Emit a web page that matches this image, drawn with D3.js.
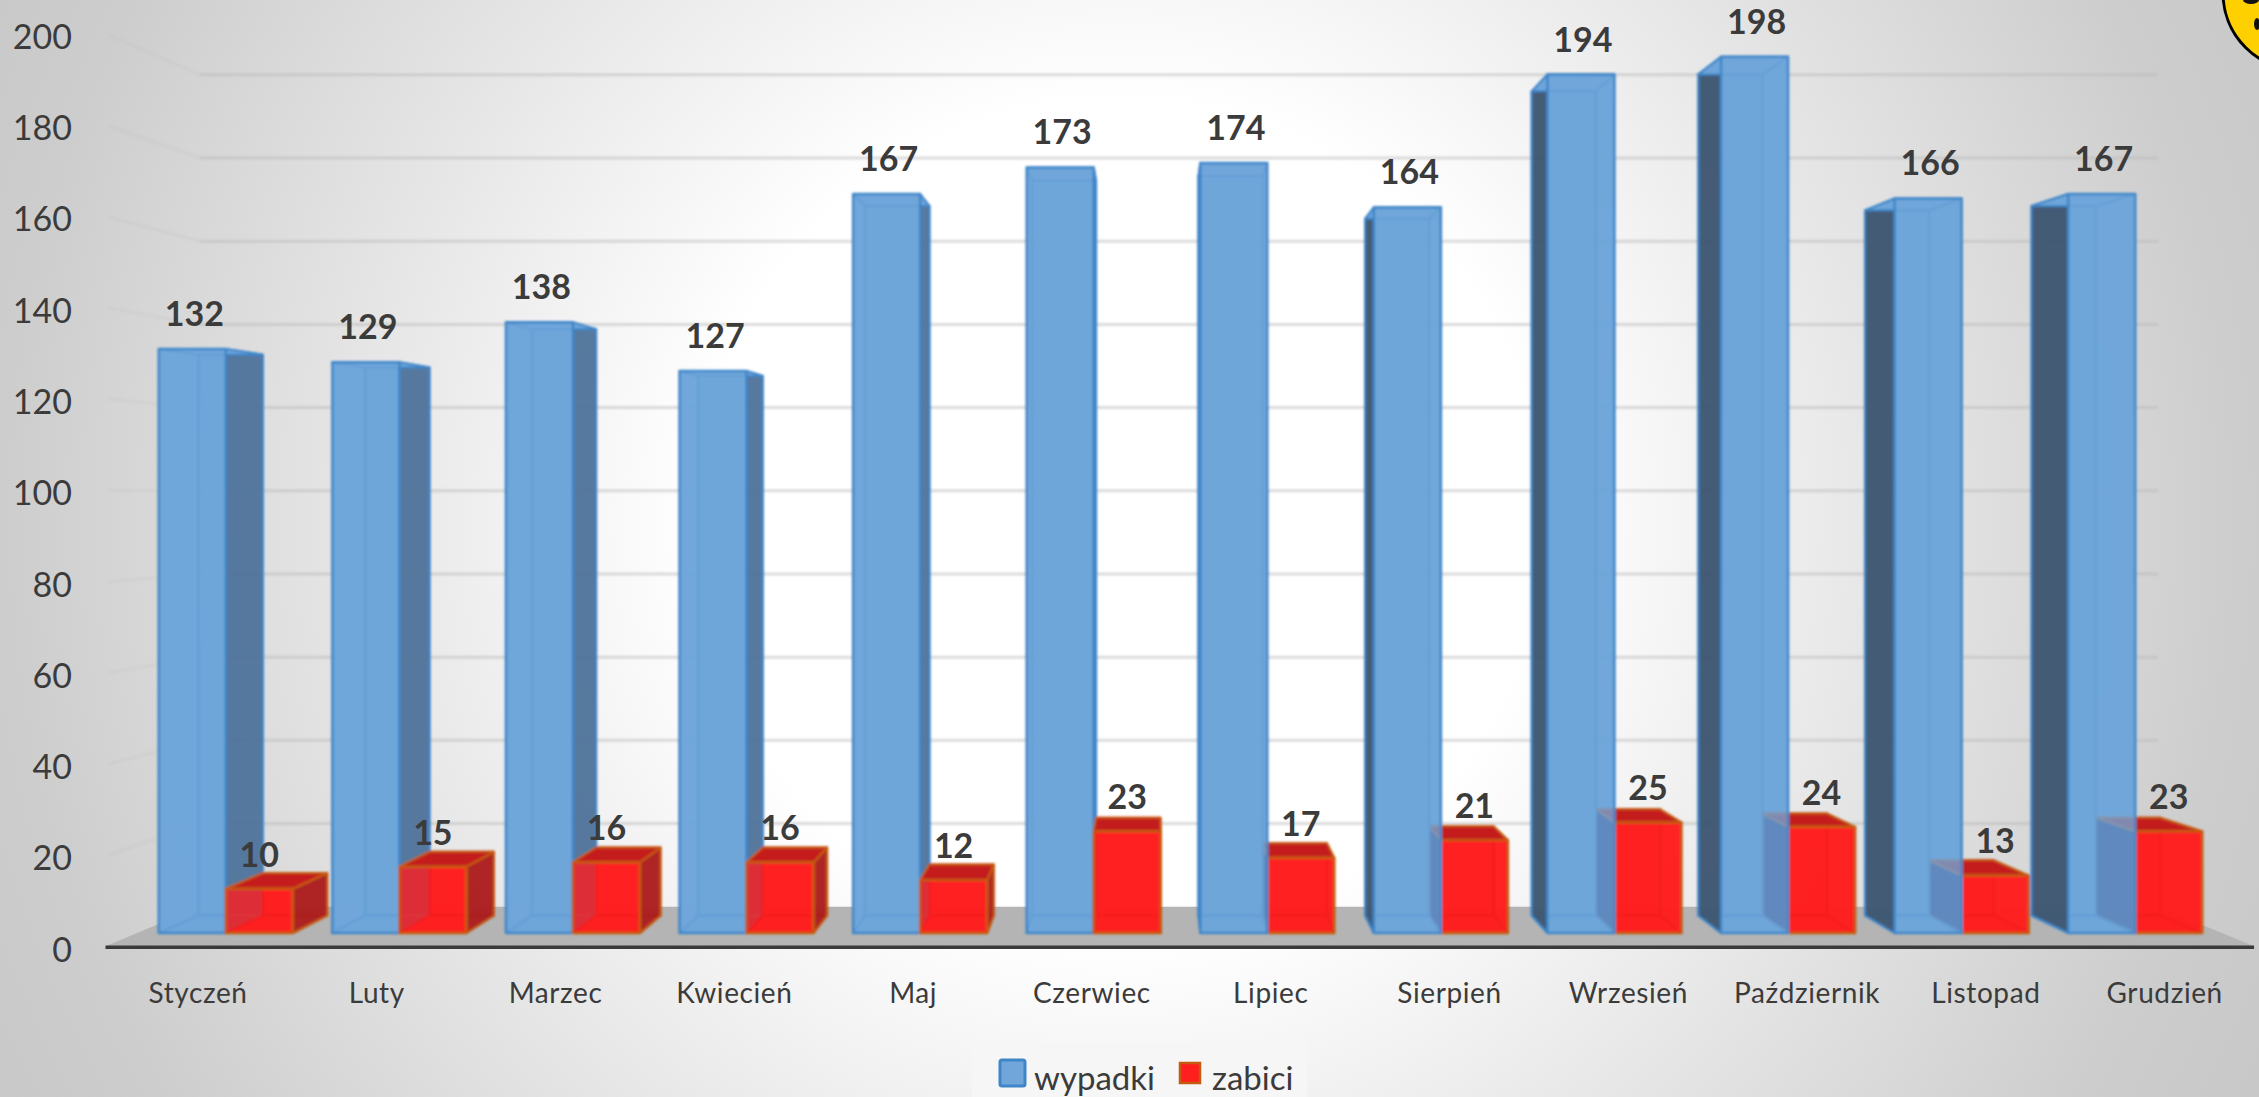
<!DOCTYPE html>
<html>
<head>
<meta charset="utf-8">
<script src="https://d3js.org/d3.v7.min.js"></script>
<style>
html, body { margin: 0; padding: 0; overflow: hidden; }
text { font-family: Lato, "Open Sans", sans-serif; fill: #3b3b3b; }
</style>
</head>
<body>
<div id="chart"></div>
<script>
var months = ["Styczeń", "Luty", "Marzec", "Kwiecień", "Maj", "Czerwiec", "Lipiec", "Sierpień", "Wrzesień", "Październik", "Listopad", "Grudzień"];
var wypadki = [132, 129, 138, 127, 167, 173, 174, 164, 194, 198, 166, 167];
var zabici = [10, 15, 16, 16, 12, 23, 17, 21, 25, 24, 13, 23];
var seriesNames = ["wypadki", "zabici"];
var yTicks = [0, 20, 40, 60, 80, 100, 120, 140, 160, 180, 200];

var width = 2259, height = 1097;

// the chart is a fake 3D one: everything goes to one vanishing point,
// k is how far from the viewer a plane is (1 = front of the bars)
var vx = 1153, vy = 495;
var kFloor = 1.03, kBarBack = 0.96, kWall = 0.94;

function P(x, y, k) {
    return [vx + k * (x - vx), vy + k * (y - vy)];
}

var x = d3.scaleBand().domain(months).range([139, 2222]).paddingInner(0.228).paddingOuter(0.114);
var xSeries = d3.scaleBand().domain(seriesNames).range([0, x.bandwidth()]);
var y = d3.scaleLinear().domain([0, 200]).range([933, 48]);

var xLeft = x.range()[0], xRight = x.range()[1];

var svg = d3.select("#chart").append("svg")
    .attr("width", width)
    .attr("height", height);

var defs = svg.append("defs");
var bg = defs.append("radialGradient")
    .attr("id", "bg")
    .attr("gradientUnits", "userSpaceOnUse")
    .attr("cx", 1120).attr("cy", 520).attr("r", 1270);
bg.append("stop").attr("offset", "0.33").attr("stop-color", "#ffffff");
bg.append("stop").attr("offset", "0.6").attr("stop-color", "#e6e6e6");
bg.append("stop").attr("offset", "0.88").attr("stop-color", "#cdcdcd");
bg.append("stop").attr("offset", "1").attr("stop-color", "#c8c8c8");

defs.append("filter").attr("id", "soft")
    .append("feGaussianBlur").attr("stdDeviation", 0.8);
defs.append("filter").attr("id", "soft2")
    .append("feGaussianBlur").attr("stdDeviation", 1.4);

svg.append("rect")
    .attr("width", width)
    .attr("height", height)
    .attr("fill", "url(#bg)");

// yellow sign cut by the corner
svg.append("circle")
    .attr("cx", 2300).attr("cy", -7).attr("r", 77)
    .attr("fill", "#ffd000")
    .attr("stroke", "#000")
    .attr("stroke-width", 3);
svg.append("ellipse")
    .attr("cx", 2251).attr("cy", 0).attr("rx", 8).attr("ry", 4).attr("fill", "#111");
svg.append("ellipse")
    .attr("cx", 2257).attr("cy", 24).attr("rx", 3).attr("ry", 6).attr("fill", "#111");

var line = d3.line();

// grid on the back wall, with the bit on the left wall
var grid = svg.append("g").attr("filter", "url(#soft)");
yTicks.slice(1).forEach(function (t) {
    grid.append("path")
        .attr("d", line([P(xLeft, y(t), kWall), P(xRight, y(t), kWall)]))
        .attr("fill", "none")
        .attr("stroke", "rgba(185,185,185,0.5)")
        .attr("stroke-width", 3);
    grid.append("path")
        .attr("d", line([P(xLeft, y(t), kFloor), P(xLeft, y(t), kWall)]))
        .attr("fill", "none")
        .attr("stroke", "rgba(185,185,185,0.18)")
        .attr("stroke-width", 3);
});

// floor
svg.append("path")
    .attr("d", line([P(xLeft - 3, y(0), kFloor), P(xRight, y(0), kFloor), P(xRight, y(0), kWall), P(xLeft, y(0), kWall)]) + "Z")
    .attr("fill", "#b4b4b4");

var styles = {
    wypadki: {
        stroke: "#3f86c9", edge: "#3a80c6",
        front: "#70a6da", frontOp: 0.78,
        back: "#6ba2d8", backOp: 0.95,
        top: "#6ea5da",
        sideR: "#50739a", sideL: "#3e556f", sideOp: 0.95
    },
    zabici: {
        stroke: "#c55a11", edge: "#c81a10",
        front: "#ff1f1f", frontOp: 0.8,
        back: "#ff1818", backOp: 0.85,
        top: "#c41e1e",
        sideR: "#ab1c1c", sideL: "#2a2060", sideOp: 0.95
    }
};

function face(g, pts, fill, op, stroke, sw) {
    g.append("path")
        .attr("d", line(pts) + "Z")
        .attr("fill", fill)
        .attr("fill-opacity", op)
        .attr("stroke", stroke)
        .attr("stroke-width", sw)
        .attr("stroke-linejoin", "round");
}

function frontPts(month, name, value) {
    var x0 = x(month) + xSeries(name);
    var x1 = x0 + xSeries.bandwidth();
    return [P(x0, y(value), 1), P(x1, y(value), 1), P(x1, y(0), 1), P(x0, y(0), 1)];
}

// underlay so the part of the front with no back face behind it is not paler
function drawUnderlay(g, month, name, value) {
    face(g, frontPts(month, name, value), styles[name].back, styles[name].backOp, "none", 0);
}

function drawBar(g, month, name, value) {
    var s = styles[name];
    var x0 = x(month) + xSeries(name);
    var x1 = x0 + xSeries.bandwidth();
    var yT = y(value), yB = y(0);
    var sideX = (x0 + x1) / 2 < vx ? x1 : x0;
    var sideFill = (x0 + x1) / 2 < vx ? s.sideR : s.sideL;

    face(g, [P(x0, yB, 1), P(x1, yB, 1), P(x1, yB, kBarBack), P(x0, yB, kBarBack)], s.back, 0.35, s.edge, 2);
    face(g, [P(x0, yT, kBarBack), P(x1, yT, kBarBack), P(x1, yB, kBarBack), P(x0, yB, kBarBack)], s.back, 0.35, s.edge, 2);
    face(g, [P(sideX, yT, 1), P(sideX, yT, kBarBack), P(sideX, yB, kBarBack), P(sideX, yB, 1)], sideFill, s.sideOp, s.stroke, 2);
    face(g, [P(x0, yT, 1), P(x1, yT, 1), P(x1, yT, kBarBack), P(x0, yT, kBarBack)], s.top, 1, s.stroke, 2);
    face(g, frontPts(month, name, value), s.front, s.frontOp, s.stroke, 2.5);
}

// bars, the one nearer the vanishing point goes first
var bars = svg.append("g").attr("filter", "url(#soft)");
months.forEach(function (m, i) {
    var g = bars.append("g");
    drawUnderlay(g, m, "wypadki", wypadki[i]);
    drawUnderlay(g, m, "zabici", zabici[i]);
    if (x(m) + x.bandwidth() / 2 < vx) {
        drawBar(g, m, "wypadki", wypadki[i]);
        drawBar(g, m, "zabici", zabici[i]);
    } else {
        drawBar(g, m, "zabici", zabici[i]);
        drawBar(g, m, "wypadki", wypadki[i]);
    }
});

// value labels
months.forEach(function (m, i) {
    svg.append("text")
        .attr("x", x(m) + xSeries("wypadki") + xSeries.bandwidth() / 2 + 2)
        .attr("y", y(wypadki[i]) - 23)
        .attr("text-anchor", "middle")
        .attr("font-size", 34)
        .attr("font-weight", 700)
        .text(wypadki[i]);
    svg.append("text")
        .attr("x", x(m) + xSeries("zabici") + xSeries.bandwidth() / 2)
        .attr("y", y(zabici[i]) - 22)
        .attr("text-anchor", "middle")
        .attr("font-size", 34)
        .attr("font-weight", 700)
        .text(zabici[i]);
});

// axes sit on the front edge of the floor
var yAxisScale = d3.scaleLinear().domain(y.domain())
    .range([P(0, y(0), kFloor)[1] + 4, P(0, y(200), kFloor)[1] + 3]);
var xAxisScale = d3.scaleBand().domain(months)
    .range([P(xLeft, 0, kFloor)[0], P(xRight, 0, kFloor)[0]]);

var yAxis = svg.append("g")
    .attr("transform", "translate(72,0)")
    .call(d3.axisLeft(yAxisScale).tickValues(yTicks).tickSize(0).tickPadding(0));
yAxis.select(".domain").remove();
yAxis.selectAll("text")
    .attr("font-size", 34)
    .attr("font-family", "Lato")
    .attr("fill", "#3b3b3b");

var xAxisY = P(0, y(0), kFloor)[1] + 1;
var axisEnds = [P(xLeft - 3, 0, kFloor)[0], xAxisScale.range()[1]];
svg.append("path")
    .attr("d", line([[axisEnds[0], xAxisY + 2], [axisEnds[1], xAxisY + 2]]))
    .attr("stroke", "#9a9a9a")
    .attr("stroke-width", 6)
    .attr("filter", "url(#soft2)");
svg.append("path")
    .attr("d", line([[axisEnds[0], xAxisY], [axisEnds[1], xAxisY]]))
    .attr("stroke", "#3a3a3a")
    .attr("stroke-width", 3.5);

var xAxis = svg.append("g")
    .attr("transform", "translate(0," + xAxisY + ")")
    .call(d3.axisBottom(xAxisScale).tickSize(0).tickPadding(36));
xAxis.select(".domain").remove();
xAxis.selectAll("text")
    .attr("font-size", 28)
    .attr("font-family", "Lato")
    .attr("letter-spacing", 0.6)
    .attr("fill", "#3b3b3b");

// legend
var legend = svg.append("g");
legend.append("rect")
    .attr("x", 972).attr("y", 1042).attr("width", 335).attr("height", 55)
    .attr("fill", "#f6f6f6");
legend.append("rect")
    .attr("x", 1000).attr("y", 1060).attr("width", 25).attr("height", 26).attr("rx", 2)
    .attr("fill", styles.wypadki.front)
    .attr("stroke", "#3f86c9").attr("stroke-width", 3);
legend.append("text")
    .attr("x", 1034).attr("y", 1090)
    .attr("font-size", 33)
    .text(seriesNames[0]);
legend.append("rect")
    .attr("x", 1180).attr("y", 1063).attr("width", 20).attr("height", 20)
    .attr("fill", styles.zabici.front)
    .attr("stroke", "#c55a11").attr("stroke-width", 2.5);
legend.append("text")
    .attr("x", 1212).attr("y", 1090)
    .attr("font-size", 33)
    .text(seriesNames[1]);
</script>
</body>
</html>
